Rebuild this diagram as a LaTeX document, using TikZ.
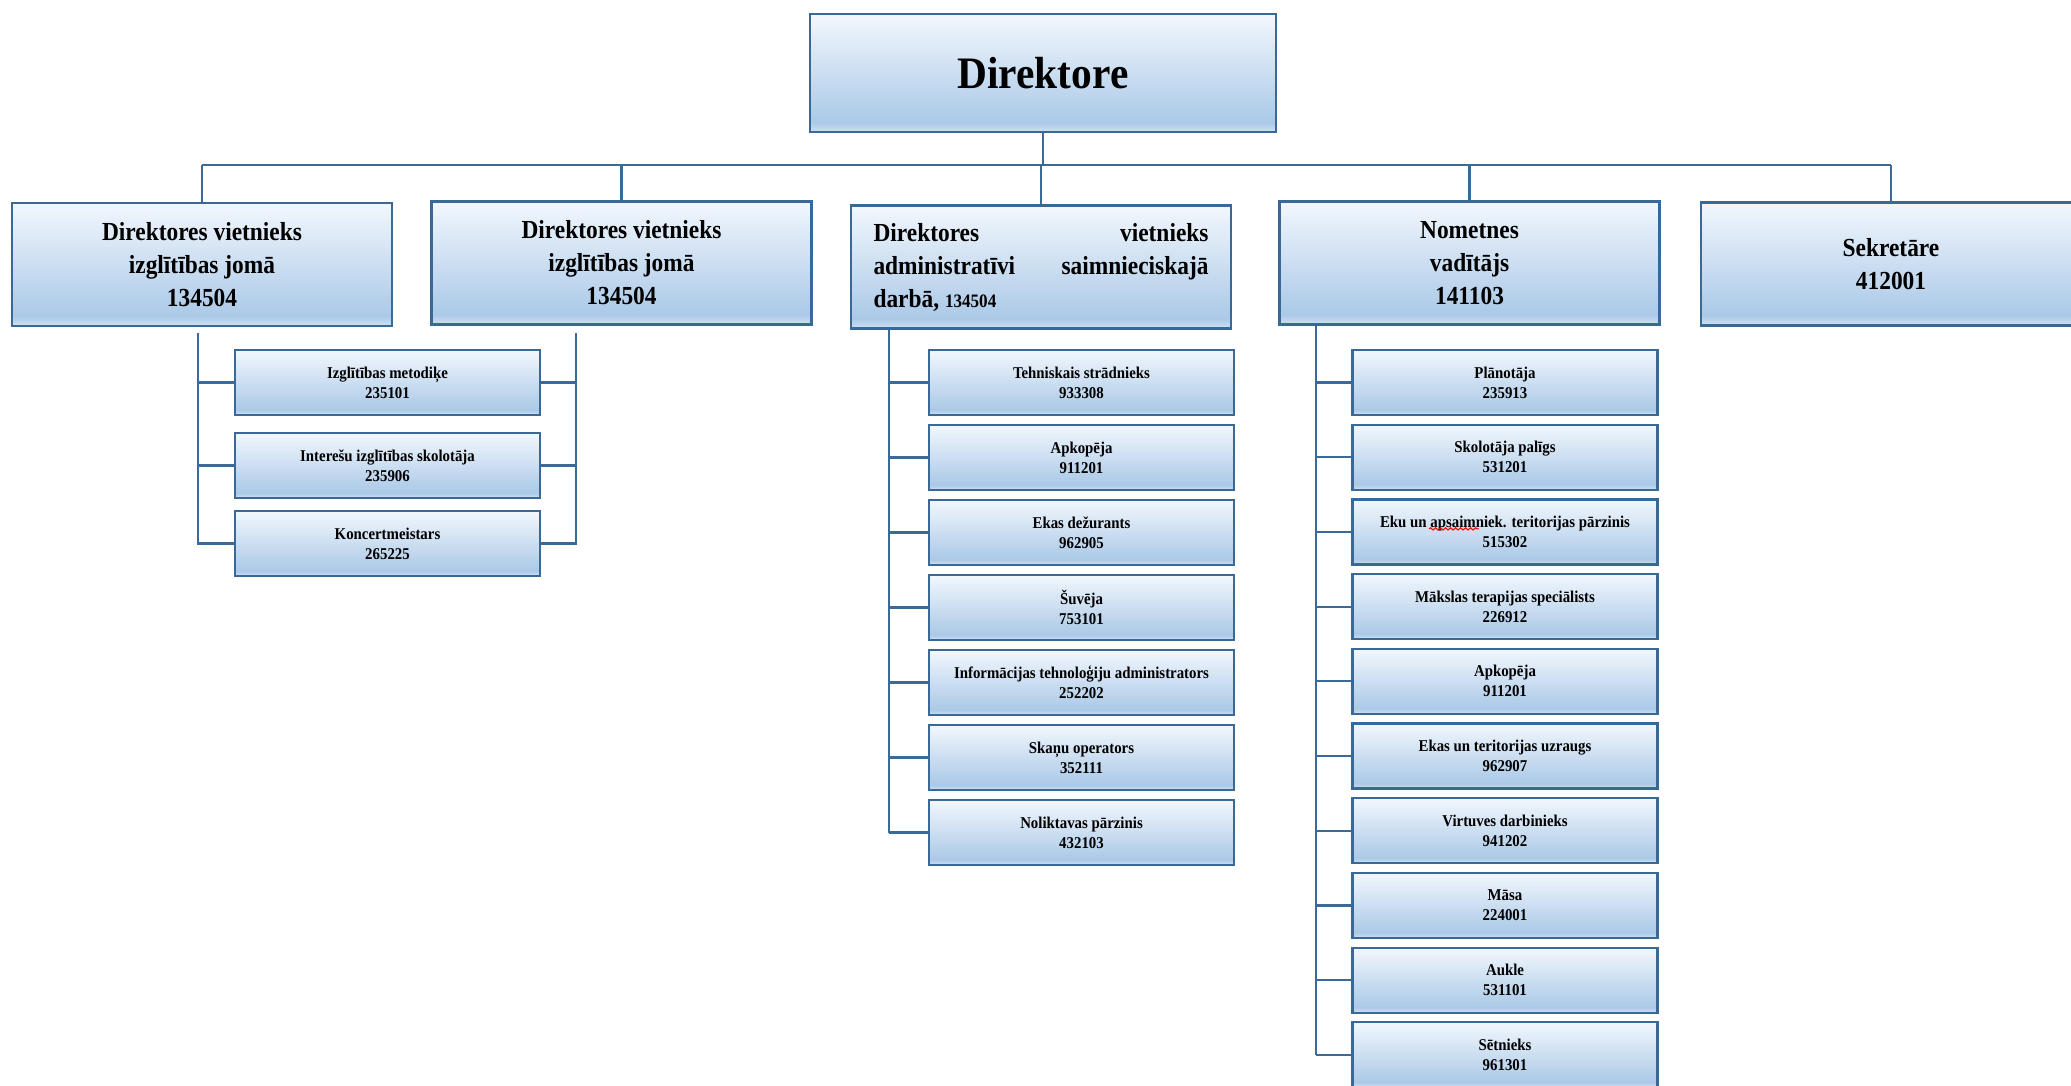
\documentclass[tikz,border=0pt]{standalone}
\usepackage{fontspec}
\setmainfont{Liberation Serif}[FakeStretch=0.9]
\newfontfamily\dirfont{Liberation Serif}[FakeStretch=0.92]
\usetikzlibrary{decorations.pathmorphing}
\definecolor{bord}{HTML}{3A6897}
\definecolor{linec}{HTML}{3C6A98}
\definecolor{ftop}{HTML}{F2F7FD}
\definecolor{fbot}{HTML}{ABC9E7}
\definecolor{fbase}{HTML}{CFE1F2}
\pgfdeclareverticalshading{boxsh}{100bp}{color(0bp)=(fbase); color(25bp)=(fbase); color(29bp)=(fbot); color(75bp)=(ftop); color(100bp)=(ftop)}
\tikzset{
  basebox/.style={draw=bord, line width=2.2pt, shading=boxsh, rectangle, inner sep=0pt, align=center},
  dirbox/.style={basebox, minimum width=466pt, minimum height=118pt, font=\dirfont\bfseries\fontsize{45}{54}\selectfont},
  lvbox/.style={basebox, minimum width=380pt, minimum height=123pt, font=\bfseries\fontsize{26}{33}\selectfont},
  subbox/.style={basebox, minimum width=305pt, minimum height=65pt, font=\bfseries\fontsize{16.5}{20}\selectfont},
  conn/.style={draw=linec, line width=2.2pt},
  squig/.style={draw=red, line width=1.1pt, decorate, decoration={snake, amplitude=1.1pt, segment length=5pt}}
}
\begin{document}
\begin{tikzpicture}[x=1pt,y=-1pt]
\useasboundingbox (0,0) rectangle (2071,1085);
\clip (0,0) rectangle (2071,1085);
\fill[white] (0,0) rectangle (2071,1085);

% top
\node[dirbox] (dir) at (1043,73) {Direktore};

% level 2
\node[lvbox] (A) at (202,264.5) {Direktores vietnieks\\izglītības jomā\\134504};
\node[lvbox] (B) at (621.5,263) {Direktores vietnieks\\izglītības jomā\\134504};
\node[lvbox] (C) at (1041,267) {\parbox{335pt}{\raggedright Direktores\hfill vietnieks\\administratīvi\hfill saimnieciskajā\\darbā, {\fontsize{19}{24}\selectfont 134504}}};
\node[lvbox] (D) at (1469.5,263) {Nometnes\\vadītājs\\141103};
\node[lvbox] (E) at (1891,264) {Sekretāre\\412001};

% bus
\coordinate (bus) at (0,165);
\draw[conn] (dir.south) -- (dir.south |- bus);
\draw[conn] (A.north |- bus) -- (E.north |- bus);
\foreach \n in {A,B,C,D,E} \draw[conn] (\n.north) -- (\n.north |- bus);

% A/B subordinates
\node[subbox] (a1) at (387.5,382.5) {Izglītības metodiķe\\235101};
\node[subbox] (a2) at (387.5,465.5) {Interešu izglītības skolotāja\\235906};
\node[subbox] (a3) at (387.5,543.5) {Koncertmeistars\\265225};
\coordinate (lb) at (198,333);
\coordinate (rb) at (576,333);
\draw[conn] (lb) |- (a3.west);
\draw[conn] (rb) |- (a3.east);
\foreach \s in {a1,a2} {
  \draw[conn] (\s.west -| lb) -- (\s.west);
  \draw[conn] (\s.east) -- (\s.east -| rb);
}

% C subordinates
\coordinate (cl) at (889,0);
\foreach \t/\c [count=\i from 0] in {{Tehniskais strādnieks}/933308, {Apkopēja}/911201, {Ekas dežurants}/962905, {Šuvēja}/753101, {Informācijas tehnoloģiju administrators}/252202, {Skaņu operators}/352111, {Noliktavas pārzinis}/432103} {
  \node[subbox] (c\i) at (1081.5,382.5+75*\i) {\t\\\c};
  \draw[conn] (c\i.west -| cl) -- (c\i.west);
}
\draw[conn] (C.south -| cl) -- (c6.west -| cl);

% D subordinates
\coordinate (dl) at (1316,0);
\foreach \t/\c [count=\i from 0] in {{Plānotāja}/235913, {Skolotāja palīgs}/531201, {Eku un apsaimniek. teritorijas pārzinis}/515302, {Mākslas terapijas speciālists}/226912, {Apkopēja}/911201, {Ekas un teritorijas uzraugs}/962907, {Virtuves darbinieks}/941202, {Māsa}/224001, {Aukle}/531101, {Sētnieks}/961301} {
  \node[subbox] (d\i) at (1505,382.5+74.7*\i) {\t\\\c};
  \draw[conn] (d\i.west -| dl) -- (d\i.west);
}
\draw[conn] (D.south -| dl) -- (d9.west -| dl);

% spell-check mark
\draw[squig] ([shift={(-76,-3)}]d2.center) -- ([shift={(-26,-3)}]d2.center);
\end{tikzpicture}
\end{document}
